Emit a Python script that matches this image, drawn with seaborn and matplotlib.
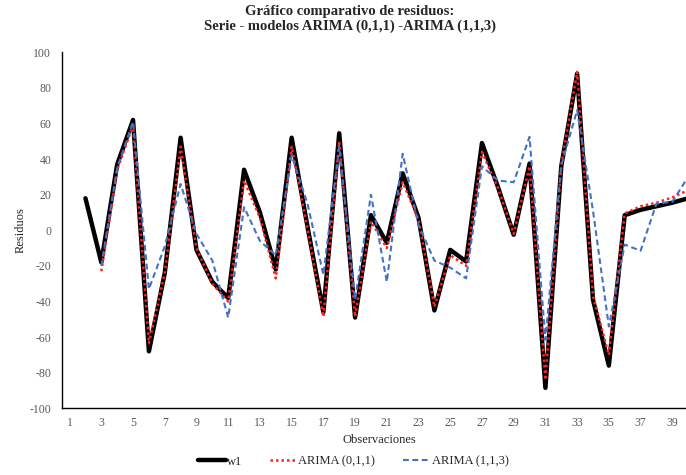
import numpy as np
import pandas as pd
import matplotlib
matplotlib.use("Agg")
import matplotlib.pyplot as plt
import seaborn as sns

nan = np.nan

# observaciones y residuos
obs = list(range(1, 41))
w1 = [nan, 18, -18, 37, 62, -68, -24, 52, -11, -29,
      -38, 34, 10, -22, 52, 2, -46, 54.5, -49, 8.5,
      -7, 32, 7, -45, -11, -17.5, 49, 24.5, -2.5, 37.5,
      -88.5, 36, 88, -39, -76, 8.5, 11.5, 13.5, 15.5, 18]
arima_011 = [nan, nan, -23, 34, 59, -63.5, -24, 47, -10, -30,
             -40, 28, 7, -27, 47, 1, -48.5, 50, -48.5, 5,
             -10, 27, 6, -43, -14, -20, 44, 24, -2, 36,
             -84, 36.5, 89, -37, -70, 9.5, 13.5, 15.5, 18.5, 22.5]
arima_113 = [nan, nan, -20, 35, 61, -33, -9, 26, -2, -17,
             -49, 13, -6, -14, 42, 15, -25, 47, -39, 20,
             -29, 43, 3, -17, -21, -27, 36, 28, 27, 52.5,
             -61.5, 36.5, 67.5, 11, -54, -8, -11.5, 15, 16, 30]

df = pd.DataFrame({"obs": obs, "w1": w1, "ARIMA (0,1,1)": arima_011, "ARIMA (1,1,3)": arima_113})

sns.set_style("white")
plt.rcParams["font.family"] = ["Liberation Serif", "DejaVu Serif"]
plt.rcParams["axes.unicode_minus"] = False

fig = plt.figure(figsize=(6.86, 4.75), dpi=100)
ax = fig.add_axes([0.0899, 0.1404, 0.9248, 0.7495])

sns.lineplot(data=df, x="obs", y="w1", ax=ax, color="black", lw=3.2, label="w1")
sns.lineplot(data=df, x="obs", y="ARIMA (0,1,1)", ax=ax, color="#FF2020", lw=1.8,
             linestyle=(0, (1, 1.2)), label="ARIMA (0,1,1)")
sns.lineplot(data=df, x="obs", y="ARIMA (1,1,3)", ax=ax, color="#4472C4", lw=1.5,
             linestyle=(0, (2.8, 1.7)), label="ARIMA (1,1,3)")

ax.set_xlim(0.5, 40.5)
ax.set_ylim(-100, 100)
ax.set_yticks(range(-100, 101, 20))
ax.set_xticks([0.5, 10.5, 20.5, 30.5, 40.5])
ax.set_xticklabels([])
ax.set_xticks(obs[::2], minor=True)
ax.set_xticklabels([str(o) for o in obs[::2]], minor=True)
ax.tick_params(axis="x", which="major", length=4, width=1, direction="out", colors="black")
ax.tick_params(axis="x", which="minor", length=0, labelsize=8.5, labelcolor="#595959", pad=6)
ax.tick_params(axis="y", length=4, width=1, direction="out", labelsize=8.5, colors="black")
for lab in ax.get_yticklabels():
    lab.set_color("#595959")

for s in ["top", "right"]:
    ax.spines[s].set_visible(False)
for s in ["left", "bottom"]:
    ax.spines[s].set_color("black")
    ax.spines[s].set_linewidth(1)

ax.set_xlabel("Observaciones", fontsize=9, labelpad=4)
ax.set_ylabel("Residuos", fontsize=9, labelpad=2)

fig.suptitle("Gráfico comparativo de residuos:\nSerie - modelos ARIMA (0,1,1) -ARIMA (1,1,3)",
             x=0.51, y=0.99, fontsize=10.5, fontweight="bold", linespacing=1.15)

ax.legend_.remove()
handles, labels = ax.get_legend_handles_labels()
fig.legend(handles, labels, loc="center", bbox_to_anchor=(0.515, 0.028), ncol=3,
           frameon=False, fontsize=9, handlelength=2.2, handletextpad=0.1, columnspacing=2.2)

fig.savefig("out.png", dpi=100)
